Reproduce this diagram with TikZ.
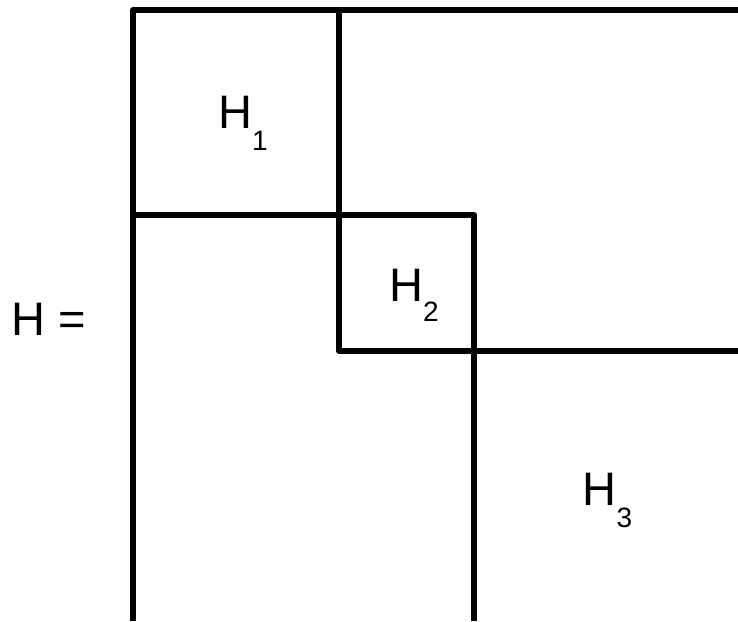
\documentclass[tikz,border=0pt]{standalone}
\usepackage{fontspec}
\setmainfont{Liberation Sans}
\begin{document}
\begin{tikzpicture}[x=1pt,y=-1pt,
  blockline/.style={line width=6pt, line join=round, line cap=butt},
  lbl/.style={inner sep=0pt, anchor=base west, font=\fontsize{47}{47}\selectfont}]
\useasboundingbox (0,0) rectangle (738,621);
% outer frame and blocks
\draw[blockline] (133,621) -- (133,10) -- (738,10);
\draw[blockline] (339,10) -- (339,351) -- (738,351);
\draw[blockline] (133,215) -- (474,215) -- (474,621);
% labels
\node[lbl] (hlabel) at (11.5,335) {H =};
\node[lbl] (h1) at (218,128) {H\raisebox{-22pt}{\fontsize{28}{28}\selectfont 1}};
\node[lbl] (h2) at (389,301) {H\raisebox{-20pt}{\fontsize{28}{28}\selectfont 2}};
\node[lbl] (h3) at (582.5,505) {H\raisebox{-22pt}{\fontsize{28}{28}\selectfont 3}};
\end{tikzpicture}
\end{document}
